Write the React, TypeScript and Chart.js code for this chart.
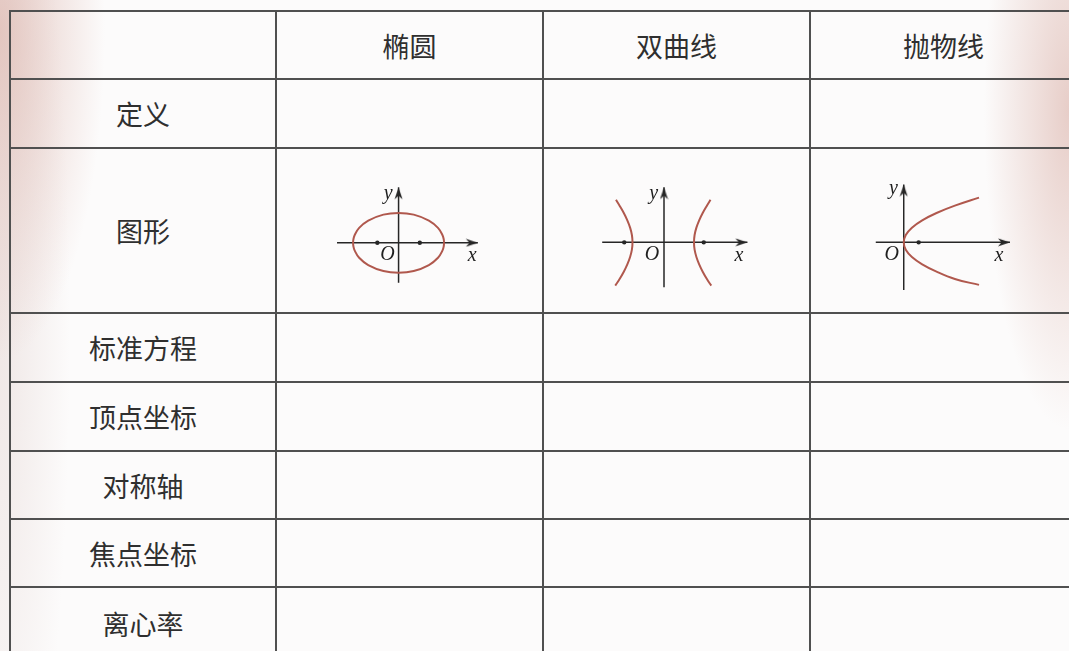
import React, { useEffect, useRef } from "react";
import { Chart, registerables } from "chart.js";

Chart.register(...registerables);

// ---------- content ----------
const columnHeaders = ["椭圆", "双曲线", "抛物线"];
const rowLabels = ["定义", "图形", "标准方程", "顶点坐标", "对称轴", "焦点坐标", "离心率"];

// ---------- curve points (x, y) ----------
const ellipsePoints: [number, number][] = [
  [3, 0], [2.98, 0.23], [2.9, 0.51], [2.6, 1], [2, 1.49], [1, 1.89], [0, 2],
  [-1, 1.89], [-2, 1.49], [-2.6, 1], [-2.9, 0.51], [-2.98, 0.23], [-3, 0],
  [-2.98, -0.23], [-2.9, -0.51], [-2.6, -1], [-2, -1.49], [-1, -1.89], [0, -2],
  [1, -1.89], [2, -1.49], [2.6, -1], [2.9, -0.51], [2.98, -0.23], [3, 0],
];
const ellipseFoci = [-1.4, 1.4];
const ellipseAxisX = [-4.06, 5.23];
const ellipseAxisY = [-2.68, 3.72];
const ellipseLabels: [string, number, number][] = [["y", -0.68, 3.29], ["O", -0.74, -0.83], ["x", 4.86, -0.89]];

const hyperbolaRight: [number, number][] = [
  [3.1, 2.9], [2.86, 2.5], [2.58, 2], [2.345, 1.5], [2.16, 1], [2.04, 0.5], [2, 0],
  [2.04, -0.5], [2.16, -1], [2.345, -1.5], [2.58, -2], [2.86, -2.5], [3.15, -2.95],
];
const hyperbolaLeft: [number, number][] = [
  [-3.2, 2.9], [-2.96, 2.5], [-2.68, 2], [-2.445, 1.5], [-2.26, 1], [-2.14, 0.5], [-2.1, 0],
  [-2.14, -0.5], [-2.26, -1], [-2.445, -1.5], [-2.68, -2], [-2.96, -2.5], [-3.25, -2.95],
];
const hyperbolaFoci = [-2.65, 2.65];
const hyperbolaAxisX = [-4.12, 5.56];
const hyperbolaAxisY = [-3.06, 3.75];
const hyperbolaLabels: [string, number, number][] = [["y", -0.69, 3.31], ["O", -0.81, -0.875], ["x", 5.0, -0.94]];

const parabolaPoints: [number, number][] = [
  [5.05, 3.05], [3.43, 2.5], [2.2, 2], [1.24, 1.5], [0.55, 1], [0.137, 0.5], [0, 0],
  [0.137, -0.5], [0.55, -1], [1.24, -1.5], [2.2, -2], [3.43, -2.5], [5.05, -2.9],
];
const parabolaFocus = [1.0];
const parabolaAxisX = [-1.875, 7.125];
const parabolaAxisY = [-3.25, 3.94];
const parabolaLabels: [string, number, number][] = [["y", -0.69, 3.62], ["O", -0.81, -0.875], ["x", 6.38, -0.94]];

// ---------- layout / style ----------
const COL_EDGES = [10, 276, 543, 810, 1080];
const ROW_EDGES = [11, 79, 148, 313, 382, 451, 519, 587, 660];
const LINE_COLOR = "#505050";
const TEXT_COLOR = "#2f2f2f";
const AXIS_COLOR = "#262626";
const CURVE_COLOR = "#b0584d";

type PlotCfg = {
  ox: number; oy: number; unit: number;
  left: number; right: number; top: number; bottom: number;
  curves: [number, number][][];
  foci: number[];
  axisX: number[]; axisY: number[];
  labels: [string, number, number][];
};

const plots: PlotCfg[] = [
  { ox: 398, oy: 243.5, unit: 16.25, left: 5, right: 6, top: 5, bottom: 4,
    curves: [ellipsePoints], foci: ellipseFoci, axisX: ellipseAxisX, axisY: ellipseAxisY, labels: ellipseLabels },
  { ox: 663, oy: 243, unit: 16, left: 5, right: 7, top: 5, bottom: 4,
    curves: [hyperbolaRight, hyperbolaLeft], foci: hyperbolaFoci, axisX: hyperbolaAxisX, axisY: hyperbolaAxisY, labels: hyperbolaLabels },
  { ox: 901, oy: 243, unit: 16, left: 3, right: 8, top: 5, bottom: 4,
    curves: [parabolaPoints], foci: parabolaFocus, axisX: parabolaAxisX, axisY: parabolaAxisY, labels: parabolaLabels },
];

function makeArrow(): HTMLCanvasElement {
  const c = document.createElement("canvas");
  c.width = 26;
  c.height = 9;
  const g = c.getContext("2d")!;
  g.fillStyle = AXIS_COLOR;
  g.beginPath();
  g.moveTo(13, 4.5);
  g.lineTo(1, 0.6);
  g.lineTo(4.5, 4.5);
  g.lineTo(1, 8.4);
  g.closePath();
  g.fill();
  return c;
}

function Plot({ cfg }: { cfg: PlotCfg }) {
  const ref = useRef<HTMLCanvasElement | null>(null);
  const left = Math.round(cfg.ox - cfg.left * cfg.unit);
  const top = Math.round(cfg.oy - cfg.top * cfg.unit);
  const width = Math.round((cfg.left + cfg.right) * cfg.unit);
  const height = Math.round((cfg.top + cfg.bottom) * cfg.unit);

  useEffect(() => {
    if (!ref.current) return;
    const arrow = makeArrow();
    const xMin = (left - cfg.ox) / cfg.unit;
    const xMax = (left + width - cfg.ox) / cfg.unit;
    const yMax = (cfg.oy - top) / cfg.unit;
    const yMin = (cfg.oy - top - height) / cfg.unit;

    const curveSets = cfg.curves.map((pts) => ({
      data: pts.map(([x, y]) => ({ x, y })),
      showLine: true,
      borderColor: CURVE_COLOR,
      borderWidth: 2,
      tension: 0.4,
      pointRadius: 0,
      clip: false as any,
    }));

    const chart = new Chart(ref.current, {
      type: "scatter",
      data: {
        datasets: [
          ...curveSets,
          {
            data: cfg.foci.map((x) => ({ x, y: 0 })),
            showLine: false,
            pointRadius: 2.2,
            pointBackgroundColor: AXIS_COLOR,
            pointBorderWidth: 0,
          },
          {
            data: [{ x: cfg.axisX[0], y: 0 }, { x: cfg.axisX[1], y: 0 }],
            showLine: true,
            borderColor: AXIS_COLOR,
            borderWidth: 1.5,
            pointRadius: 0,
            tension: 0,
          },
          {
            data: [{ x: 0, y: cfg.axisY[0] }, { x: 0, y: cfg.axisY[1] }],
            showLine: true,
            borderColor: AXIS_COLOR,
            borderWidth: 1.5,
            pointRadius: 0,
            tension: 0,
          },
          {
            data: [{ x: cfg.axisX[1], y: 0 }, { x: 0, y: cfg.axisY[1] }],
            showLine: false,
            pointStyle: arrow as any,
            pointRotation: [0, -90] as any,
            pointRadius: 5,
          },
        ],
      },
      options: {
        animation: false,
        responsive: false,
        maintainAspectRatio: false,
        events: [],
        layout: { padding: 0 },
        plugins: { legend: { display: false }, tooltip: { enabled: false } },
        scales: {
          x: { type: "linear", min: xMin, max: xMax, display: false },
          y: { type: "linear", min: yMin, max: yMax, display: false },
        },
      },
      plugins: [
        {
          id: "axisLetters",
          afterDatasetsDraw(c: any) {
            const ctx = c.ctx;
            ctx.save();
            ctx.font = 'italic 20px "Liberation Serif", "DejaVu Serif", serif';
            ctx.fillStyle = "#1f1f1f";
            ctx.textAlign = "center";
            ctx.textBaseline = "middle";
            for (const [t, x, y] of cfg.labels) {
              ctx.fillText(t, c.scales.x.getPixelForValue(x), c.scales.y.getPixelForValue(y));
            }
            ctx.restore();
          },
        },
      ],
    });
    return () => chart.destroy();
  }, []);

  return (
    <canvas
      ref={ref}
      width={width}
      height={height}
      style={{ position: "absolute", left, top, width, height }}
    />
  );
}

export default function App() {
  const tableTop = ROW_EDGES[0];
  const tableLeft = COL_EDGES[0];
  const cells: React.ReactNode[] = [];

  columnHeaders.forEach((h, i) => {
    cells.push(
      <div key={"h" + i} style={{
        position: "absolute", left: COL_EDGES[i + 1], top: ROW_EDGES[0],
        width: i === 2 ? 267 : COL_EDGES[i + 2] - COL_EDGES[i + 1],
        height: ROW_EDGES[1] - ROW_EDGES[0],
        display: "flex", alignItems: "center", justifyContent: "center",
      }}>{h}</div>
    );
  });
  rowLabels.forEach((r, i) => {
    cells.push(
      <div key={"r" + i} style={{
        position: "absolute", left: COL_EDGES[0], top: ROW_EDGES[i + 1],
        width: COL_EDGES[1] - COL_EDGES[0], height: ROW_EDGES[i + 2] - ROW_EDGES[i + 1],
        display: "flex", alignItems: "center", justifyContent: "center",
      }}>{r}</div>
    );
  });

  return (
    <div style={{
      position: "fixed", left: 0, top: 0, width: 1069, height: 651, overflow: "hidden",
      background:
        "radial-gradient(ellipse 105px 330px at 0px 30px, rgba(214,168,158,0.6), rgba(214,168,158,0) 100%)," +
        "radial-gradient(ellipse 70px 560px at 0px 330px, rgba(210,185,180,0.3), rgba(210,185,180,0) 100%)," +
        "radial-gradient(ellipse 85px 320px at 1069px 110px, rgba(214,168,158,0.55), rgba(214,168,158,0) 100%)," +
        "#fcfbfb",
      fontFamily: '"Noto Sans CJK SC", sans-serif',
      fontSize: 27,
      color: TEXT_COLOR,
    }}>
      {ROW_EDGES.slice(0, -1).map((y, i) => (
        <div key={"hl" + i} style={{
          position: "absolute", left: tableLeft, top: y - 1, width: 1069 - tableLeft, height: 2, background: LINE_COLOR,
        }} />
      ))}
      {COL_EDGES.slice(0, -1).map((x, i) => (
        <div key={"vl" + i} style={{
          position: "absolute", left: x - 1, top: tableTop - 1, width: 2, height: 651 - tableTop + 1, background: LINE_COLOR,
        }} />
      ))}
      {cells}
      {plots.map((p, i) => <Plot key={i} cfg={p} />)}
    </div>
  );
}
